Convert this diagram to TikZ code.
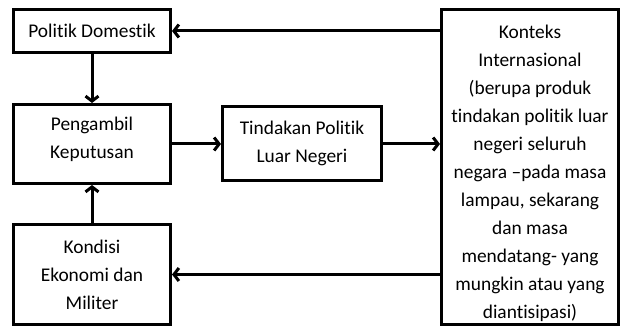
\documentclass[tikz,border=0pt]{standalone}
\usepackage{fontspec}
\setmainfont{Carlito}[Ligatures={TeX,NoCommon}]
\usetikzlibrary{arrows.meta,positioning,shadows}

\begin{document}
\begin{tikzpicture}[->,>={Straight Barb[length=5pt,width=13pt]},line width=3pt,x=1pt,y=-1pt,
  node distance=49pt,font=\fontsize{19.4}{28}\selectfont]
  \tikzstyle{kotak}=[draw=black,line width=3pt,rectangle,fill=white,align=center,inner sep=2pt,
    drop shadow={shadow xshift=1.5pt,shadow yshift=-1.5pt,fill=black!30}]
  \useasboundingbox (0,0) rectangle (624,331);

  \node[kotak,minimum width=157pt,minimum height=43pt] (pol) at (92,31) {Politik Domestik};
  \node[kotak,minimum width=157pt,minimum height=79pt,text depth=12pt] (peng) at (92,144) {Pengambil\\Keputusan};
  \node[kotak,minimum width=157pt,minimum height=100pt] (kond) at (92,274.5) {Kondisi\\Ekonomi dan\\Militer};
  \node[kotak,minimum width=159pt,minimum height=74pt,text depth=5pt] (tind) [right=49pt of peng] {Tindakan Politik\\Luar Negeri};
  \node[kotak,minimum width=177pt,minimum height=315pt,text height=306pt] (konteks) at (530,167) {Konteks\\Internasional\\(berupa produk\\tindakan politik luar\\negeri seluruh\\negara –pada masa\\lampau, sekarang\\dan masa\\mendatang- yang\\mungkin atau yang\\diantisipasi)};

  \path (konteks.west |- pol.east) edge (pol.east)
	(pol) edge (peng)
	(kond) edge (peng)
	(peng) edge (tind)
	(tind.east) edge (tind.east -| konteks.west)
	(konteks.west |- kond.east) edge (kond.east);
\end{tikzpicture}
\end{document}
